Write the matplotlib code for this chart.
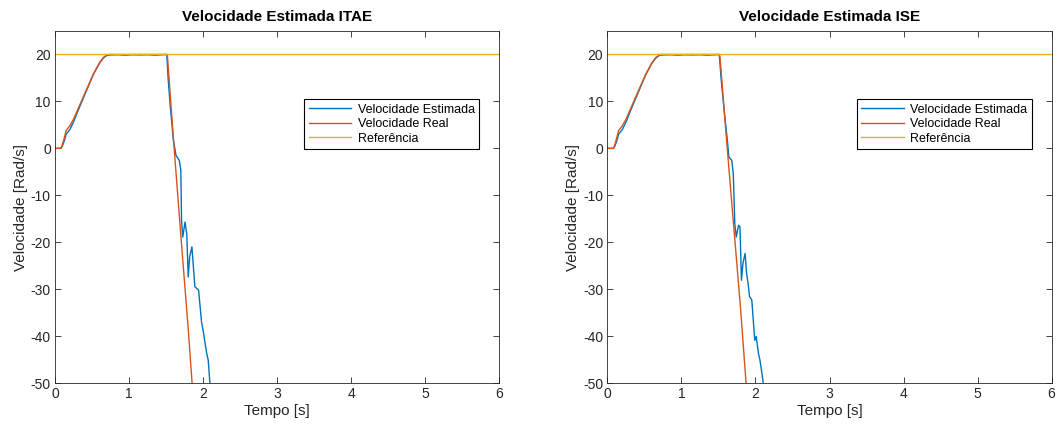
import matplotlib
matplotlib.use('Agg')
import matplotlib.pyplot as plt

plt.rcParams['font.family'] = ['Liberation Sans', 'DejaVu Sans']
plt.rcParams['axes.unicode_minus'] = False

# Referencia de velocidade (degrau de 20 rad/s)
ref_t = [0, 6]
ref_v = [20, 20]

# --- Controlador ITAE ---
itae_real_t = [0, 0.08, 0.10, 0.13, 0.15, 0.20, 0.25, 0.30, 0.38, 0.45, 0.52, 0.60, 0.65, 0.70,
               0.72, 1.51, 1.52, 1.60, 1.70, 1.80, 1.85, 1.87]
itae_real_v = [0, 0, 0.8, 2.5, 3.8, 4.8, 6.2, 8.0, 10.9, 13.4, 15.9, 18.2, 19.3, 19.9,
               20, 20, 19.5, 2.0, -18.5, -38.5, -49.5, -53]

itae_est_t = [0, 0.08, 0.10, 0.13, 0.15, 0.20, 0.25, 0.30, 0.38, 0.45, 0.52, 0.60, 0.65, 0.70,
              0.75, 0.85, 0.95, 1.05, 1.15, 1.25, 1.35, 1.45, 1.51, 1.53, 1.56, 1.60,
              1.635, 1.68, 1.70, 1.71, 1.726, 1.757, 1.78, 1.80, 1.82, 1.85, 1.87, 1.89,
              1.94, 1.98, 2.00, 2.05, 2.07, 2.09, 2.11]
itae_est_v = [0, 0, 0.5, 1.8, 3.0, 4.0, 5.6, 7.6, 10.6, 13.2, 15.8, 18.1, 19.2, 19.8,
              19.9, 19.95, 19.85, 19.95, 19.9, 19.95, 19.85, 19.95, 20, 14.5, 8.5, 1.7,
              -1.5, -2.6, -4.7, -15.3, -18.9, -15.7, -18.2, -27.4, -23.1, -21.0, -25.3, -29.5,
              -30.2, -37.0, -38.7, -43.7, -45.1, -49.4, -52]

# --- Controlador ISE ---
ise_real_t = [0, 0.08, 0.10, 0.13, 0.15, 0.20, 0.25, 0.30, 0.38, 0.45, 0.52, 0.60, 0.65, 0.70,
              0.72, 1.51, 1.52, 1.60, 1.70, 1.80, 1.87, 1.89]
ise_real_v = [0, 0, 0.8, 2.5, 3.8, 4.8, 6.2, 8.0, 10.9, 13.4, 15.9, 18.2, 19.3, 19.9,
              20, 20, 19.5, 3.5, -15.5, -34.5, -49.5, -53]

ise_est_t = [0, 0.08, 0.10, 0.13, 0.15, 0.20, 0.25, 0.30, 0.38, 0.45, 0.52, 0.60, 0.65, 0.70,
             0.75, 0.85, 0.95, 1.05, 1.15, 1.25, 1.35, 1.45, 1.51, 1.54, 1.58, 1.62,
             1.64, 1.68, 1.70, 1.72, 1.74, 1.77, 1.79, 1.81, 1.83, 1.86, 1.88, 1.90,
             1.92, 1.95, 1.97, 1.99, 2.01, 2.04, 2.06, 2.08, 2.10, 2.12]
ise_est_v = [0, 0, 0.5, 1.8, 3.0, 4.0, 5.6, 7.6, 10.6, 13.2, 15.8, 18.1, 19.2, 19.8,
             19.9, 19.95, 19.85, 19.95, 19.9, 19.95, 19.85, 19.95, 20, 14.0, 7.5, 1.7,
             -1.8, -2.6, -5.4, -16.0, -18.9, -16.4, -16.7, -28.1, -24.5, -22.4, -26.7, -28.8,
             -31.6, -32.3, -36.6, -40.9, -40.1, -43.7, -45.1, -47.2, -49.4, -52]

BLUE = '#0072BD'
RED = '#D95319'
YELLOW = '#EDB120'
AXCOLOR = '#262626'


def draw_panel(ax, est_t, est_v, real_t, real_v, title):
    ax.plot(est_t, est_v, color=BLUE, lw=1.0, label='Velocidade Estimada')
    ax.plot(real_t, real_v, color=RED, lw=1.0, label='Velocidade Real')
    ax.plot(ref_t, ref_v, color=YELLOW, lw=1.0, label='Referência')
    ax.set_xlim(0, 6)
    ax.set_ylim(-50, 25)
    ax.set_yticks(range(-50, 21, 10))
    ax.set_xticks(range(0, 7))
    ax.set_title(title, fontsize=11, fontweight='bold', color='black', pad=7)
    ax.set_xlabel('Tempo [s]', fontsize=11, color=AXCOLOR, labelpad=2)
    ax.set_ylabel('Velocidade [Rad/s]', fontsize=11, color=AXCOLOR, labelpad=2)
    ax.tick_params(direction='in', top=True, right=True, length=4, width=0.6,
                   labelsize=10, colors=AXCOLOR, pad=3)
    for sp in ax.spines.values():
        sp.set_color(AXCOLOR)
        sp.set_linewidth(0.6)
    leg = ax.legend(loc='upper right', bbox_to_anchor=(0.955, 0.806), fontsize=9,
                    frameon=True, fancybox=False, framealpha=1, edgecolor='black',
                    handlelength=3.4, handletextpad=0.5, labelspacing=0.2,
                    borderpad=0.35, borderaxespad=0)
    leg.get_frame().set_linewidth(0.8)


fig = plt.figure(figsize=(10.6, 4.3), dpi=100)
ax1 = fig.add_axes([0.0519, 0.1093, 0.4189, 0.8186])
ax2 = fig.add_axes([0.5731, 0.1093, 0.4189, 0.8186])

draw_panel(ax1, itae_est_t, itae_est_v, itae_real_t, itae_real_v, 'Velocidade Estimada ITAE')
draw_panel(ax2, ise_est_t, ise_est_v, ise_real_t, ise_real_v, 'Velocidade Estimada ISE')

fig.savefig('out.png', dpi=100)
